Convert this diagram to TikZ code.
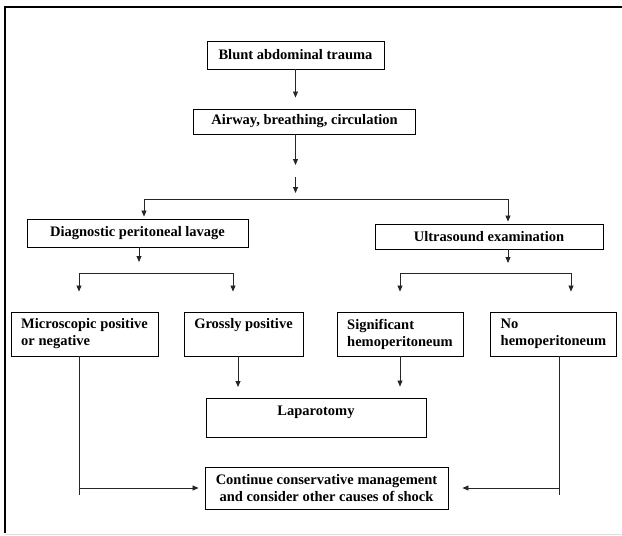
\documentclass[tikz,border=0pt]{standalone}
\usepackage{fontspec}
\setmainfont{Liberation Serif}
\usetikzlibrary{arrows.meta}

\begin{document}
\begin{tikzpicture}[x=1pt, y=-1pt, line width=0.8pt,
  box/.style={draw=black, line width=0.9pt, inner sep=0pt, align=center,
    font=\fontsize{14.5}{17}\selectfont\bfseries},
  lbox/.style={box, align=left, inner xsep=10pt, minimum height=44pt},
  arr/.style={-{Triangle[width=5pt,length=6pt]}, draw=black!85},
  gap/.style={shorten >=#1}]

  % page and frame
  \useasboundingbox (0,0) rectangle (622,536);
  \draw[line width=2pt] (5,533) -- (5,7) -- (622,7);
  \draw[black!12] (5,534) -- (622,534);

  % upper boxes
  \node[box, minimum width=177pt, minimum height=28pt] (blunt) at (295.5,55) {Blunt abdominal trauma};
  \node[box, minimum width=222pt, minimum height=25pt] (airway) at (304.5,121.5) {Airway, breathing, circulation};
  \node[box, minimum width=221pt, minimum height=28pt] (dpl) at (137.5,233) {Diagnostic peritoneal lavage};
  \node[box, minimum width=228pt, minimum height=25pt] (us) at (489,236.5) {Ultrasound examination};

  % findings
  \node[lbox, minimum width=147pt] (micro) at (84.5,334) {Microscopic positive\\or negative};
  \node[lbox, minimum width=119pt] (gross) at (243.5,334) {Grossly positive\\\vphantom{p}};
  \node[lbox, minimum width=126pt] (signif) at (400,334) {Significant\\hemoperitoneum};
  \node[lbox, minimum width=125pt] (nohemo) at (553.5,334) {No\\hemoperitoneum};

  % outcomes
  \node[box, minimum width=220pt, minimum height=39pt, text depth=14pt] (lap) at (316,417.5) {Laparotomy};
  \node[box, minimum width=243pt, minimum height=42pt] (cont) at (326.5,488) {Continue conservative management\\and consider other causes of shock};

  % branch points and free ends
  \coordinate (stop1) at (295.5,165);
  \coordinate (start2) at (295.5,177);
  \coordinate (stop2) at (295.5,193);
  \coordinate (forkL) at (144,199);
  \coordinate (forkR) at (508,199);
  \coordinate (dplout) at (139,262);
  \coordinate (usout) at (508,263);
  \coordinate (subL1) at (79,273);
  \coordinate (subL2) at (233,273);
  \coordinate (subR1) at (400,273);
  \coordinate (subR2) at (571,273);
  \coordinate (gx) at (238,387);
  \coordinate (ml) at (79,495);
  \coordinate (nr) at (559,495);

  % top chain
  \draw[arr, gap=11pt] (blunt.south) -- (blunt.south |- airway.north);
  \draw[arr] (airway.south -| stop1) -- (stop1);
  \draw[arr] (start2) -- (stop2);
  \draw[draw=black!85] (forkL) -- (forkR);
  \draw[arr, gap=2pt] (forkL) -- (forkL |- dpl.north);
  \draw[arr, gap=2pt] (forkR) -- (forkR |- us.north);

  % lavage branch
  \draw[arr] (dplout |- dpl.south) -- (dplout);
  \draw[draw=black!85] (subL1) -- (subL2);
  \draw[arr, gap=20pt] (subL1) -- (subL1 |- micro.north);
  \draw[arr, gap=20pt] (subL2) -- (subL2 |- gross.north);

  % ultrasound branch
  \draw[arr] (usout |- us.south) -- (usout);
  \draw[draw=black!85] (subR1) -- (subR2);
  \draw[arr, gap=20pt] (subR1) -- (subR1 |- signif.north);
  \draw[arr, gap=20pt] (subR2) -- (subR2 |- nohemo.north);

  % to laparotomy
  \draw[arr] (gx |- gross.south) -- (gx);
  \draw[arr, gap=11pt] (signif.south) -- (signif.south |- lap.north);

  % to conservative management
  \draw[draw=black!85] (ml |- micro.south) -- (ml);
  \draw[arr, gap=6pt] (ml |- cont.west) -- (cont.west);
  \draw[draw=black!85] (nr |- nohemo.south) -- (nr);
  \draw[arr, gap=14pt] (nr |- cont.east) -- (cont.east);

\end{tikzpicture}
\end{document}
